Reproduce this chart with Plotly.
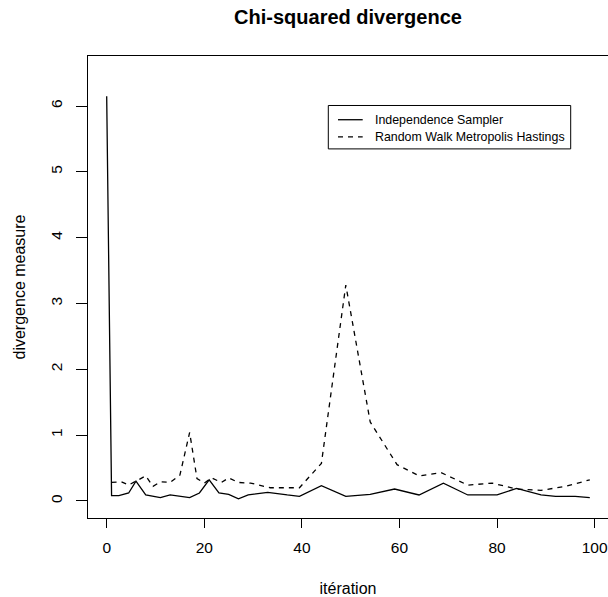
import plotly.graph_objects as go

# Independence Sampler (solid)
iter_is = [0, 1, 2.5, 4.5, 6, 8, 11, 13, 17, 19, 21, 23, 25, 27, 29, 33, 37, 39.5,
           44, 49, 54, 59, 64, 69, 74, 80, 84, 89, 92, 96, 99]
div_is = [6.15, 0.08, 0.08, 0.12, 0.30, 0.09, 0.05, 0.09, 0.05, 0.12, 0.32, 0.12, 0.10, 0.03,
          0.09, 0.13, 0.09, 0.07, 0.23, 0.07, 0.10, 0.18, 0.09, 0.27, 0.09, 0.09, 0.19, 0.09,
          0.07, 0.07, 0.05]

# Random Walk Metropolis Hastings (dashed)
iter_rw = [1, 3, 4.5, 6, 8, 9.5, 11, 13, 15, 17, 18.5, 20, 21.5, 23.5, 25, 27, 29.5, 33.5,
           39.5, 44, 49, 54, 59.5, 64, 68.5, 74, 79, 84, 89, 94, 99]
div_rw = [0.28, 0.29, 0.24, 0.30, 0.38, 0.22, 0.29, 0.28, 0.39, 1.04, 0.34, 0.27, 0.35, 0.28,
          0.35, 0.28, 0.27, 0.20, 0.20, 0.57, 3.28, 1.20, 0.55, 0.38, 0.43, 0.24, 0.27, 0.18,
          0.16, 0.22, 0.32]

series_names = ["Independence Sampler", "Random Walk Metropolis Hastings"]
x_ticks = [0, 20, 40, 60, 80, 100]
y_ticks = [0, 1, 2, 3, 4, 5, 6]

FONT = "Liberation Sans, Arial, sans-serif"
W, H = 608, 597
ML, MR, MT, MB = 88, 0, 56, 77
PW, PH = W - ML - MR, H - MT - MB


def px(x):  # pixel -> paper x
    return (x - ML) / PW


def py(y):  # pixel -> paper y
    return (H - MB - y) / PH


DASH = "5px,5px"

fig = go.Figure()
fig.add_trace(go.Scatter(x=iter_is, y=div_is, mode="lines", name=series_names[0],
                         line=dict(color="black", width=1.3), showlegend=False))
fig.add_trace(go.Scatter(x=iter_rw, y=div_rw, mode="lines", name=series_names[1],
                         line=dict(color="black", width=1.3, dash=DASH), showlegend=False))

# legend drawn in R style
shapes = [
    dict(type="rect", xref="paper", yref="paper", x0=px(328.3), x1=px(570.7),
         y0=py(149.3), y1=py(105.7), line=dict(color="black", width=1), fillcolor="white",
         layer="above"),
]
annotations = []
rows = [120.0, 137.3]
styles = ["solid", DASH]
for name, ry, st in zip(series_names, rows, styles):
    shapes.append(dict(type="line", xref="paper", yref="paper", x0=px(338), x1=px(362.7),
                       y0=py(ry), y1=py(ry), line=dict(color="black", width=1.3, dash=st),
                       layer="above"))
    annotations.append(dict(text=name, xref="paper", yref="paper", x=px(373.3), y=py(ry),
                            xanchor="left", yanchor="middle", showarrow=False,
                            font=dict(family=FONT, size=12.4, color="black")))

fig.update_layout(
    width=W, height=H,
    margin=dict(l=ML, r=MR, t=MT, b=MB),
    plot_bgcolor="white", paper_bgcolor="white",
    font=dict(family=FONT, color="black", size=16),
    title=dict(text="<b>Chi-squared divergence</b>", x=0.5, xref="paper", xanchor="center",
               y=1 - 17 / H, yref="container", yanchor="middle",
               font=dict(family=FONT, size=20, color="black")),
    shapes=shapes,
    annotations=annotations,
    showlegend=False,
)

fig.update_xaxes(range=[-3.83, 102.73], tickvals=x_ticks, ticktext=[str(v) for v in x_ticks],
                 showgrid=False, zeroline=False, showline=True, mirror=True,
                 linecolor="black", linewidth=1, ticks="outside", ticklen=9, tickwidth=1,
                 tickcolor="black", tickfont=dict(family=FONT, size=15.5, color="black"),
                 ticklabelstandoff=6,
                 title=dict(text="itération", standoff=30, font=dict(family=FONT, size=16)))
fig.update_yaxes(range=[-0.26, 6.76], tickvals=y_ticks, ticktext=[str(v) for v in y_ticks],
                 showgrid=False, zeroline=False, showline=True, mirror=False,
                 linecolor="black", linewidth=1, ticks="outside", ticklen=11, tickwidth=1,
                 tickcolor="black", tickangle=-90, tickfont=dict(family=FONT, size=15.5, color="black"),
                 ticklabelstandoff=8,
                 title=dict(text="divergence measure", standoff=18, font=dict(family=FONT, size=16)))

fig.write_html("out.html")
